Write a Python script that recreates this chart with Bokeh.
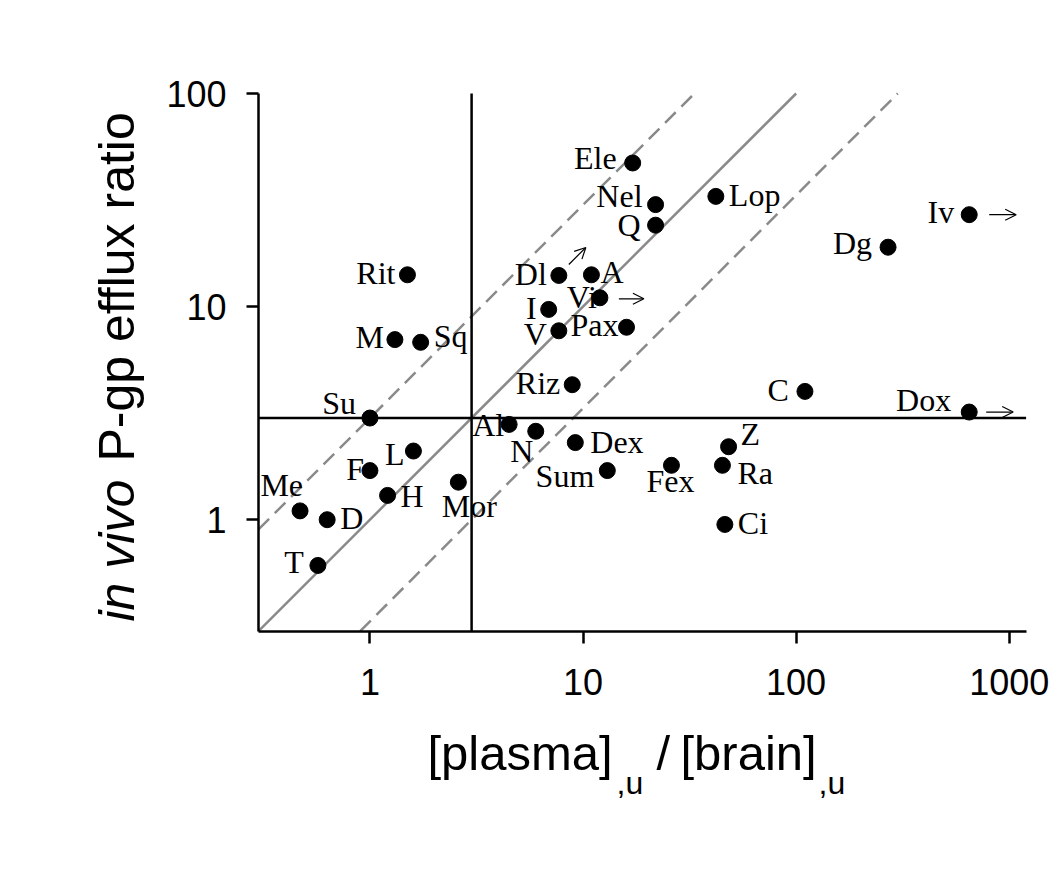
import math
from bokeh.plotting import figure
from bokeh.models import (Label, Arrow, OpenHead, FixedTicker,
                          NumeralTickFormatter, ColumnDataSource, Range1d)
from bokeh.embed import file_html
from bokeh.resources import INLINE
from bokeh.core.properties import value

# ---------------- data ----------------
drugs = ["Ele", "Nel", "Q", "Lop", "Iv", "Dg", "Rit", "Dl", "A", "Vi", "I", "V",
         "Pax", "M", "Sq", "Riz", "C", "Dox", "Su", "Al", "N", "Dex", "L", "F",
         "Sum", "Fex", "Z", "Ra", "Ci", "Mor", "H", "Me", "D", "T"]
plasma_brain = [17.1, 21.9, 21.9, 42.0, 649, 270, 1.50, 7.7, 10.95, 12.0, 6.9, 7.7,
                16.0, 1.31, 1.73, 8.9, 110, 649, 1.0, 4.5, 6.0, 9.2, 1.60, 1.0,
                13.0, 26.0, 48.2, 45.1, 46.3, 2.6, 1.21, 0.47, 0.63, 0.57]
efflux_ratio = [47.2, 30.1, 24.1, 32.9, 27.0, 19.0, 14.1, 14.0, 14.1, 11.0, 9.7, 7.7,
                8.0, 7.0, 6.8, 4.3, 4.0, 3.2, 3.0, 2.8, 2.6, 2.3, 2.1, 1.7,
                1.7, 1.8, 2.2, 1.8, 0.95, 1.5, 1.3, 1.1, 1.0, 0.61]

x_ticks = [1, 10, 100, 1000]
y_ticks = [1, 10, 100]
cutoff_x = 3
cutoff_y = 3
diag_factors = [1, 3, 1 / 3]
arrow_drugs = ["Iv", "Dox", "Vi", "Dl"]

# ---------------- label placement (px, page y downwards) ----------------
label_place = {
    "Ele": ("right", -16, -3), "Nel": ("right", -13, -7), "Q": ("right", -15, 1),
    "Lop": ("left", 13, 0), "Iv": ("right", -15, -1), "Dg": ("right", -16, -3),
    "Rit": ("right", -12, 0), "Dl": ("right", -12, 0), "A": ("left", 9, -1),
    "Vi": ("right", -3, 1), "I": ("right", -12, 0), "V": ("right", -12, 5),
    "Pax": ("right", -8, -1), "M": ("right", -11, -1), "Sq": ("left", 13, -5),
    "Riz": ("right", -12, 0), "C": ("right", -16, 0), "Dox": ("right", -18, -11),
    "Su": ("right", -14, -14), "Al": ("right", -5, 2), "N": ("center", -14, 21),
    "Dex": ("left", 15, 1), "L": ("right", -9, 4), "F": ("right", -6, 0),
    "Sum": ("right", -13, 7), "Fex": ("center", -1, 17), "Z": ("left", 12, -11),
    "Ra": ("left", 15, 9), "Ci": ("left", 13, 0), "Mor": ("center", 11, 25),
    "H": ("left", 13, 2), "Me": ("right", 3, -24), "D": ("left", 13, 0),
    "T": ("right", -14, -2),
}
# arrow offsets from the point: (dx0, dy0, dx1, dy1) px, y downwards
arrow_place = {"Iv": (20, 0, 47, 0), "Dox": (17, 0, 44, 0),
               "Vi": (19, 1, 44, 1), "Dl": (10, -11, 27, -28)}

# ---------------- geometry ----------------
XMIN, XMAX = 0.3, 1200          # plotting box (axis extents)
YMIN, YMAX = 0.3, 100
W, H = 1050, 880                # canvas; frame covers the whole canvas
BOX_LEFT, BOX_TOP = 258, 93     # page position of the box corner
PPD = 213.1                     # pixels per decade, both axes
BOX_BOTTOM = BOX_TOP + PPD * math.log10(YMAX / YMIN)

XLO = XMIN * 10 ** (-BOX_LEFT / PPD)
XHI = XMIN * 10 ** ((W - BOX_LEFT) / PPD)
YHI = YMAX * 10 ** (BOX_TOP / PPD)
YLO = YMIN * 10 ** (-(H - BOX_BOTTOM) / PPD)

LABEL_FS = 32
BASE_CORR = -1.5

p = figure(width=W, height=H, x_axis_type="log", y_axis_type="log",
           x_range=Range1d(XLO, XHI), y_range=Range1d(YLO, YHI),
           output_backend="svg", toolbar_location=None,
           min_border_left=0, min_border_right=0,
           min_border_top=0, min_border_bottom=0)
p.outline_line_color = None
p.grid.visible = False
p.background_fill_color = "white"
p.border_fill_color = "white"

for ax, ticks, bounds, loc in ((p.xaxis[0], x_ticks, (XMIN, XMAX), YMIN),
                               (p.yaxis[0], y_ticks, (YMIN, YMAX), XMIN)):
    ax.ticker = FixedTicker(ticks=ticks, minor_ticks=[])
    ax.formatter = NumeralTickFormatter(format="0")
    ax.bounds = bounds
    ax.fixed_location = loc
    ax.axis_line_width = 2.5
    ax.axis_line_color = "black"
    ax.major_tick_line_width = 2.5
    ax.major_tick_line_color = "black"
    ax.major_tick_out = 12
    ax.major_tick_in = 0
    ax.minor_tick_out = 0
    ax.minor_tick_in = 0
    ax.major_label_text_font = "Liberation Sans"
    ax.major_label_text_font_size = "36px"
    ax.major_label_text_color = "black"
p.xaxis[0].major_label_standoff = 26
p.yaxis[0].major_label_standoff = 20

# diagonal reference lines, clipped to the box
for k in diag_factors:
    x0 = max(XMIN, YMIN / k)
    x1 = min(XMAX, YMAX / k)
    p.line([x0, x1], [k * x0, k * x1], line_color="#8a8a8a", line_width=2.5,
           line_dash="solid" if k == 1 else "15 8")

# cut-off lines
p.line([cutoff_x, cutoff_x], [YMIN, YMAX], line_color="black", line_width=2.5)
p.line([XMIN, XMAX], [cutoff_y, cutoff_y], line_color="black", line_width=2.5)

src = ColumnDataSource(dict(
    x=plasma_brain, y=efflux_ratio, name=drugs,
    align=[label_place[d][0] for d in drugs],
    dx=[label_place[d][1] for d in drugs],
    dy=[label_place[d][2] + BASE_CORR for d in drugs],
))
p.scatter("x", "y", source=src, size=16, fill_color="black", line_color="black")
p.text("x", "y", text="name", source=src, text_align="align", x_offset="dx",
       y_offset="dy", text_baseline=value("middle"),
       text_font=value("Liberation Serif"), text_font_size=value(f"{LABEL_FS}px"),
       text_color="black")

for d in arrow_drugs:
    i = drugs.index(d)
    x0, y0 = plasma_brain[i], efflux_ratio[i]
    dx0, dy0, dx1, dy1 = arrow_place[d]
    p.add_layout(Arrow(
        end=OpenHead(size=11, line_width=1.2, line_color="black"),
        x_start=x0 * 10 ** (dx0 / PPD), y_start=y0 * 10 ** (-dy0 / PPD),
        x_end=x0 * 10 ** (dx1 / PPD), y_end=y0 * 10 ** (-dy1 / PPD),
        line_width=1.2, line_color="black"))

# axis titles: page pixel position -> data coordinates
def dxp(px):
    return XMIN * 10 ** ((px - BOX_LEFT) / PPD)

def dyp(py):
    return YMIN * 10 ** ((BOX_BOTTOM - py) / PPD)

title_font = "Liberation Sans"
xt = [("[plasma]", 427, 752, 49), (",u", 616, 782, 32), ("/", 656, 752, 49),
      ("[brain]", 680, 752, 49), (",u", 818, 782, 32)]
for txt, px, py, fs in xt:
    p.add_layout(Label(x=dxp(px), y=dyp(py), text=txt, text_font=title_font,
                       text_font_size=f"{fs}px", text_align="left",
                       text_baseline="middle", text_color="black"))

p.add_layout(Label(x=dxp(116), y=dyp(621), text="in vivo", text_font=title_font,
                   text_font_size="50px", text_font_style="italic", angle=math.pi / 2,
                   text_align="left", text_baseline="middle", text_color="black"))
p.add_layout(Label(x=dxp(116), y=dyp(461), text="P-gp efflux ratio",
                   text_font=title_font, text_font_size="50px", angle=math.pi / 2,
                   text_align="left", text_baseline="middle", text_color="black"))

open("out.html", "w").write(file_html(p, INLINE))
